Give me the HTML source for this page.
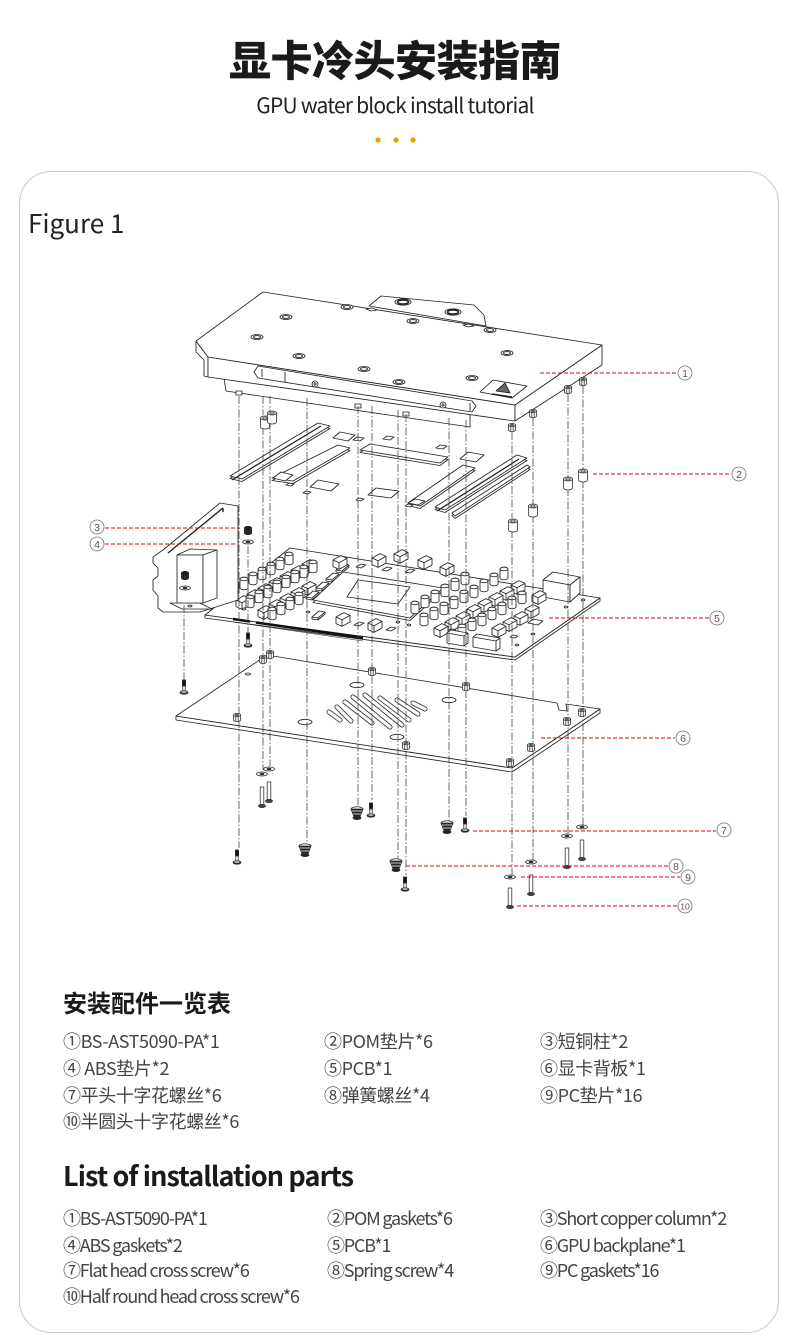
<!DOCTYPE html>
<html><head><meta charset="utf-8">
<style>
html,body{margin:0;padding:0;background:#fff;}
#p{position:relative;width:790px;height:1344px;overflow:hidden;font-family:"Noto Sans CJK SC","Liberation Sans",sans-serif;color:#222;}
.t{position:absolute;white-space:nowrap;line-height:1;}
.card{position:absolute;left:19px;top:171px;width:758px;height:1160px;border:1.5px solid #c9c9c9;border-radius:32px;}
.l{position:absolute;white-space:nowrap;line-height:1;font-size:18px;color:#444;letter-spacing:-0.4px;}
.e{letter-spacing:-1.2px;}
</style></head><body><div id="p">
<div class="card"></div>

<div class="t" style="left:0;width:790px;text-align:center;top:38px;font-size:42px;font-weight:900;color:#1a1a1a;letter-spacing:-0.5px;">显卡冷头安装指南</div>
<div class="t" style="left:0;width:790px;text-align:center;top:95px;font-size:21px;color:#222;letter-spacing:-0.8px;">GPU water block install tutorial</div>
<div class="t" style="left:28px;top:210px;font-size:26px;color:#222;">Figure 1</div>

<svg width="790" height="1344" viewBox="0 0 790 1344" style="position:absolute;left:0;top:0">
<defs>
<g id="cap"><path d="M-4,0V-9A4,1.8 0 0 1 4,-9V0A4,1.8 0 0 1 -4,0Z"/><ellipse cx="0" cy="-9" rx="4" ry="1.8"/></g>
<g id="ch"><path d="M0,0L8,-4.4L14,-1.6L14,5L6,9.4L0,6.6Z"/><path d="M0,0L6,2.8L14,-1.6M6,2.8V9.4" fill="none"/></g>
<g id="mem"><path d="M0,0L7,-6L13,-5L13,-3L6,3L0,2Z"/><path d="M0,0L6,1L13,-5M6,1V3" fill="none"/></g>
<g id="sq"><path d="M0,0L5,-3L10,-2L5,1Z"/></g>
<g id="nut"><path d="M-3.5,-5V0A3.5,1.6 0 0 0 3.5,0V-5Z"/><ellipse cx="0" cy="-5" rx="3.5" ry="1.6"/><ellipse cx="0" cy="-5" rx="1.5" ry=".7"/><path d="M-1.2,-3.6V1.4M1.2,-3.6V1.4" fill="none"/></g>
<g id="pom"><path d="M-4.5,-9V0A4.5,2 0 0 0 4.5,0V-9Z"/><ellipse cx="0" cy="-9" rx="4.5" ry="2"/><ellipse cx="0" cy="-9" rx="2.2" ry="1"/></g>
<g id="wash"><ellipse cx="0" cy="0" rx="5.5" ry="2"/><ellipse cx="0" cy="0" rx="2" ry=".8" fill="#333"/></g>
<g id="cone"><ellipse cx="0" cy="-4" rx="6" ry="2.2" fill="#fff"/><path d="M-6,-4L-3,4A3,1.4 0 0 0 3,4L6,-4Z" fill="#222"/><path d="M-5,-2L5,-2M-4,1L4,1" stroke="#fff" stroke-width=".8"/><ellipse cx="0" cy="5" rx="4" ry="1.6" fill="#222"/></g>
<g id="ss"><rect x="-1.6" y="0" width="3.2" height="6" fill="#111"/><rect x="-1.2" y="6" width="2.4" height="6" fill="#fff"/><ellipse cx="0" cy="12.5" rx="4" ry="1.7" fill="#222"/><ellipse cx="0" cy="12" rx="3" ry="1" fill="#fff"/></g>
<g id="ls"><rect x="-1.8" y="0" width="3.6" height="18" fill="#fff"/><ellipse cx="0" cy="19" rx="3.5" ry="1.6" fill="#444"/></g>
</defs>

<!-- WATER BLOCK -->
<g fill="#fff" stroke="#222" stroke-width=".85" stroke-linejoin="round">
<polygon points="224,378 470,414 470,427 226,391"/>
<polygon points="196,341 208,357 208,377 204,376 204,360 196,352"/>
<polygon points="208,357 515,405 515,421 208,377"/>
<polygon points="515,405 602,345 602,365 515,421"/>
<polygon points="263,292 602,345 515,405 208,357 196,341"/>
<polygon points="369,306 381,296 474,305 484,315 486,326"/>
<ellipse cx="403" cy="302" rx="8" ry="3.2"/><ellipse cx="403" cy="302" rx="5.5" ry="2.1" stroke-width="1.6"/>
<ellipse cx="453" cy="312" rx="8" ry="3.2"/><ellipse cx="453" cy="312" rx="5.5" ry="2.1" stroke-width="1.6"/>
<polygon points="366,309 372,308 377,310 371,311"/>
<polygon points="463,325 469,324 474,326 468,327"/>
<g>
<ellipse cx="286" cy="317" rx="6" ry="2.5"/><ellipse cx="286" cy="317" rx="3.5" ry="1.4"/>
<ellipse cx="347" cy="307" rx="6" ry="2.5"/><ellipse cx="347" cy="307" rx="3.5" ry="1.4"/>
<ellipse cx="413" cy="321" rx="6" ry="2.5"/><ellipse cx="413" cy="321" rx="3.5" ry="1.4"/>
<ellipse cx="257" cy="337" rx="6" ry="2.5"/><ellipse cx="257" cy="337" rx="3.5" ry="1.4"/>
<ellipse cx="299" cy="356" rx="6" ry="2.5"/><ellipse cx="299" cy="356" rx="3.5" ry="1.4"/>
<ellipse cx="364" cy="369" rx="6" ry="2.5"/><ellipse cx="364" cy="369" rx="3.5" ry="1.4"/>
<ellipse cx="399" cy="382" rx="6" ry="2.5"/><ellipse cx="399" cy="382" rx="3.5" ry="1.4"/>
<ellipse cx="472" cy="378" rx="6" ry="2.5"/><ellipse cx="472" cy="378" rx="3.5" ry="1.4"/>
<ellipse cx="507" cy="353" rx="6" ry="2.5"/><ellipse cx="507" cy="353" rx="3.5" ry="1.4"/>
<ellipse cx="490" cy="330" rx="6" ry="2.5"/><ellipse cx="490" cy="330" rx="3.5" ry="1.4"/>
</g>
<polygon points="258,366 472,401 476,406 472,412 258,378 254,372"/>
<path d="M262,369 L262,377 M470,403 L470,411 M285,372 L285,382" fill="none"/>
<circle cx="315" cy="384" r="3"/><path d="M313,384h4M315,382v4" fill="none"/>
<circle cx="443" cy="405" r="3"/><path d="M441,405h4M443,403v4" fill="none"/>
<polygon points="480,392 493,380 527,386 512,398"/>
<path d="M496,391 L505,383 L510,393 Z" fill="#666"/>
<path d="M492,394 L512,397" fill="none" stroke-width="1.4"/>
<rect x="236" y="391" width="6" height="4"/>
<rect x="355" y="404" width="6" height="4"/>
<rect x="403" y="412" width="6" height="4"/>
</g>
<g fill="#fff" stroke="#333" stroke-width=".8">
<use href="#nut" x="512" y="430"/><use href="#nut" x="533" y="416"/><use href="#nut" x="568" y="392"/><use href="#nut" x="583" y="384"/>
</g>

<!-- PADS -->
<g fill="#fff" stroke="#222" stroke-width=".85" stroke-linejoin="round">
<g transform="translate(0,2.5)">
<polygon points="230,476 318,423 330,426 242,479"/>
<polygon points="272,478 338,445 350,448 293,481"/>
<polygon points="360,450 370,444 448,457 440,463"/>
<polygon points="408,503 463,465 475,468 420,506"/>
<polygon points="435,507 517,455 527,458 445,510"/>
<polygon points="452,513 527,465 530,467 455,516"/>
</g>
<polygon points="230,476 318,423 330,426 242,479"/>
<polygon points="272,478 338,445 350,448 293,481"/>
<polygon points="360,450 370,444 448,457 440,463"/>
<polygon points="408,503 463,465 475,468 420,506"/>
<polygon points="435,507 517,455 527,458 445,510"/>
<polygon points="452,513 527,465 530,467 455,516"/>
<path d="M232,480 L321,426" fill="none" stroke-width="1.3"/>
<path d="M437,511 L519,459" fill="none" stroke-width="1.3"/>
<polygon points="333,438 340,432 355,435 348,441"/>
<polygon points="353,440 357,437 364,438 360,441"/>
<polygon points="383,439 387,436 394,437 390,440"/>
<polygon points="273,478 281,472 293,475 285,481"/>
<polygon points="310,487 318,480 339,484 331,491"/>
<polygon points="368,495 376,488 399,491 391,498"/>
<polygon points="460,459 468,452 484,455 476,462"/>
<polygon points="436,448 440,445 447,446 443,449"/>
<polygon points="408,503 415,499 425,501 418,505"/>
<polygon points="286,485 289,483 294,484 291,486"/>
<polygon points="303,493 306,491 311,492 308,494"/>
<polygon points="356,500 359,498 364,499 361,501"/>
<polygon points="405,506 408,504 413,505 410,507"/>
</g>

<!-- PCB -->
<g fill="#fff" stroke="#222" stroke-width=".85" stroke-linejoin="round">
<polygon points="205,615 515,657 600,598 600,601 515,660 205,618"/>
<polygon points="205,615 290,548 600,598 515,657"/>
<!-- left bank -->
<use href="#cap" x="289" y="563"/><use href="#cap" x="280" y="568"/><use href="#cap" x="271" y="573"/><use href="#cap" x="262" y="578"/><use href="#cap" x="253" y="583"/><use href="#cap" x="244" y="588"/><use href="#cap" x="235" y="593"/><use href="#cap" x="226" y="598"/>
<use href="#ch" x="302" y="564"/><use href="#ch" x="291" y="570"/><use href="#ch" x="280" y="576"/><use href="#ch" x="269" y="582"/><use href="#ch" x="258" y="588"/><use href="#ch" x="247" y="594"/><use href="#ch" x="236" y="600"/>
<use href="#cap" x="313" y="571"/><use href="#cap" x="304" y="576"/><use href="#cap" x="295" y="581"/><use href="#cap" x="286" y="586"/><use href="#cap" x="277" y="591"/><use href="#cap" x="268" y="596"/><use href="#cap" x="259" y="601"/><use href="#cap" x="250" y="606"/>
<use href="#ch" x="302" y="586"/><use href="#ch" x="291" y="592"/><use href="#ch" x="280" y="598"/><use href="#ch" x="269" y="604"/><use href="#ch" x="258" y="610"/>
<use href="#cap" x="299" y="603"/><use href="#cap" x="290" y="608"/><use href="#cap" x="281" y="613"/><use href="#cap" x="272" y="618"/>
<use href="#mem" x="336" y="570"/><use href="#mem" x="326" y="579"/><use href="#mem" x="316" y="588"/><use href="#mem" x="306" y="597"/>
<!-- back middle -->
<use href="#ch" x="333" y="560"/><use href="#ch" x="372" y="558"/><use href="#ch" x="394" y="554"/><use href="#ch" x="418" y="560"/><use href="#ch" x="440" y="567"/>
<use href="#sq" x="356" y="567"/><use href="#sq" x="382" y="570"/><use href="#sq" x="405" y="572"/>
<!-- GPU -->
<polygon points="313,602.5 343,574.5 443,590.5 410,620.5"/>
<polygon points="313,600 343,572 443,588 410,618"/>
<polygon points="347,597 358,580 410,587 398,604"/>
<!-- front middle -->
<use href="#mem" x="312" y="617"/><use href="#ch" x="336" y="617"/><use href="#sq" x="354" y="625"/><use href="#ch" x="368" y="623"/><use href="#sq" x="386" y="630"/>
<!-- right bank -->
<use href="#cap" x="465" y="583"/><use href="#cap" x="455" y="589"/><use href="#cap" x="445" y="595"/><use href="#cap" x="435" y="601"/><use href="#cap" x="425" y="606"/><use href="#cap" x="415" y="612"/>
<use href="#cap" x="504" y="578"/><use href="#cap" x="494" y="584"/><use href="#cap" x="484" y="590"/><use href="#cap" x="474" y="596"/><use href="#cap" x="464" y="601"/><use href="#cap" x="454" y="607"/><use href="#cap" x="444" y="613"/><use href="#cap" x="434" y="618"/><use href="#cap" x="424" y="624"/>
<use href="#ch" x="511" y="585"/><use href="#ch" x="500" y="591"/><use href="#ch" x="489" y="597"/><use href="#ch" x="478" y="603"/><use href="#ch" x="467" y="609"/><use href="#ch" x="456" y="616"/><use href="#ch" x="445" y="622"/><use href="#ch" x="434" y="628"/>
<use href="#cap" x="522" y="602"/><use href="#cap" x="512" y="607"/><use href="#cap" x="502" y="613"/><use href="#cap" x="492" y="618"/><use href="#cap" x="482" y="624"/><use href="#cap" x="472" y="629"/><use href="#cap" x="462" y="635"/><use href="#cap" x="452" y="640"/>
<use href="#ch" x="525" y="609"/><use href="#ch" x="514" y="616"/><use href="#ch" x="503" y="622"/><use href="#ch" x="492" y="628"/>
<polygon points="447,633 451,630 468,633 468,643 464,646 447,643"/><path d="M447,633 L464,636 L468,633 M464,636 V646" fill="none"/>
<polygon points="473,637 477,634 500,638 500,648 496,651 473,647"/><path d="M473,637 L496,641 L500,638 M496,641 V651" fill="none"/>
<polygon points="543,580 553,572 580,577 570,585"/>
<polygon points="543,580 570,585 570,602 543,597"/>
<polygon points="570,585 580,577 580,593 570,602"/>
<use href="#ch" x="532" y="595"/>
<polygon points="528,623 533,619 543,621 538,625"/>
<polygon points="510,637 513,635 518,636 515,638"/>
<ellipse cx="566" cy="607" rx="1.8" ry=".9"/><ellipse cx="583" cy="600" rx="1.8" ry=".9"/><ellipse cx="409" cy="625" rx="1.8" ry=".9"/><ellipse cx="244" cy="609" rx="1.8" ry=".9"/><ellipse cx="308" cy="612" rx="1.8" ry=".9"/><ellipse cx="517" cy="645" rx="1.8" ry=".9"/><ellipse cx="533" cy="634" rx="1.8" ry=".9"/><ellipse cx="398" cy="622" rx="1.8" ry=".9"/>
<!-- bracket -->
<polygon points="163,550 220,503 238,506 238,600 200,612 163,612 158,608 158,596 153,590 153,580 158,576 158,568 153,563 153,557"/>
<path d="M168,553 L223,508 M223,508 V512" fill="none" stroke-width="1.4"/>
<polygon points="170,603 200,603 212,609 182,609"/>
<ellipse cx="190" cy="606" rx="2" ry=".9"/>
<polygon points="177,555 190,549 217,550 203,555"/>
<polygon points="177,555 203,555 203,603 177,603"/>
<polygon points="203,555 217,550 217,598 203,603"/>
</g>
<path d="M233,619 L250,621.5 M256,622.5 L363,638" stroke="#111" stroke-width="2.6" fill="none"/>
<path d="M233,622 L363,641" stroke="#333" stroke-width=".6" fill="none"/>

<!-- BACKPLATE -->
<g fill="#fff" stroke="#222" stroke-width=".85" stroke-linejoin="round">
<polygon points="176,716 512,768 600,709 600,713 512,772 176,720"/>
<polygon points="176,716 267,655 557,703 559,710 567,711 566,704 600,709 512,768"/>
<ellipse cx="357" cy="685" rx="7" ry="2.7"/><ellipse cx="305" cy="722" rx="7" ry="2.7"/><ellipse cx="449" cy="700" rx="7" ry="2.7"/><ellipse cx="397" cy="737" rx="7" ry="2.7"/><ellipse cx="248" cy="674" rx="2.5" ry="1"/>
</g>
<g stroke-linecap="round" fill="none">
<g stroke="#333" stroke-width="5">
<path d="M329,712L340,720M337,707L351,721M345,702L372,723M353,697L390,727M365,695L402,725M380,698L409,720M397,700L418,714M413,703L425,709"/>
</g>
<g stroke="#fff" stroke-width="3.3">
<path d="M329,712L340,720M337,707L351,721M345,702L372,723M353,697L390,727M365,695L402,725M380,698L409,720M397,700L418,714M413,703L425,709"/>
</g>
</g>

<!-- DASH-DOT LINES -->
<g stroke="#444" stroke-width=".8" fill="none" stroke-dasharray="8 2 1.5 2">
<path d="M239,396V848"/>
<path d="M248,546V633"/>
<path d="M184,605V680"/>
<path d="M263,396V415M263,427V770"/>
<path d="M270,396V412M270,422V766"/>
<path d="M307,398V843"/>
<path d="M358,406V806"/>
<path d="M372,406V800"/>
<path d="M398,410V858"/>
<path d="M406,414V875"/>
<path d="M449,418V822"/>
<path d="M466,420V816"/>
<path d="M512,432V518M512,530V875"/>
<path d="M533,418V505M533,515V860"/>
<path d="M568,394V478M568,488V834"/>
<path d="M583,386V470M583,480V825"/>
</g>

<!-- SMALL PARTS -->
<g fill="#fff" stroke="#333" stroke-width=".8">
<use href="#pom" x="265" y="427"/><use href="#pom" x="272" y="422"/>
<use href="#pom" x="513" y="530"/><use href="#pom" x="533" y="515"/><use href="#pom" x="568" y="488"/><use href="#pom" x="583" y="480"/>
<use href="#wash" x="248" y="542"/><use href="#wash" x="185" y="588"/>
<use href="#nut" x="263" y="662"/><use href="#nut" x="270" y="657"/><use href="#nut" x="372" y="674"/><use href="#nut" x="466" y="689"/><use href="#nut" x="237" y="720"/><use href="#nut" x="406" y="748"/><use href="#nut" x="567" y="724"/><use href="#nut" x="582" y="715"/><use href="#nut" x="531" y="750"/><use href="#nut" x="510" y="765"/>
<use href="#wash" x="262" y="774"/><use href="#wash" x="269" y="769"/><use href="#wash" x="567" y="836"/><use href="#wash" x="582" y="827"/><use href="#wash" x="531" y="862"/><use href="#wash" x="510" y="877"/>
<use href="#ls" x="262" y="787"/><use href="#ls" x="269" y="782"/><use href="#ls" x="567" y="848"/><use href="#ls" x="582" y="840"/><use href="#ls" x="531" y="875"/><use href="#ls" x="510" y="888"/>
<use href="#ss" x="184" y="680"/><use href="#ss" x="248" y="633"/><use href="#ss" x="237" y="850"/><use href="#ss" x="371" y="803"/><use href="#ss" x="465" y="818"/><use href="#ss" x="405" y="877"/>
<use href="#cone" x="305" y="850"/><use href="#cone" x="357" y="813"/><use href="#cone" x="396" y="865"/><use href="#cone" x="447" y="827"/>
</g>
<g fill="#333" stroke="#111" stroke-width=".8">
<use href="#nut" x="248" y="533"/><use href="#nut" x="185" y="578"/>
</g>

<!-- RED LEADERS -->
<g stroke="#e60012" stroke-width="1.1" stroke-dasharray="4 2" fill="none">
<path d="M540,373H676"/>
<path d="M593,474H731"/>
<path d="M105,528H240"/>
<path d="M105,544H237"/>
<path d="M549,618H709"/>
<path d="M541,738H675"/>
<path d="M473,831H716"/>
<path d="M406,866H668"/>
<path d="M521,877H680"/>
<path d="M517,906H677"/>
</g>
<g fill="#fff" stroke="#777" stroke-width=".8">
<circle cx="685" cy="373" r="7"/><circle cx="739" cy="474" r="7"/><circle cx="97" cy="527" r="7"/><circle cx="97" cy="544" r="7"/><circle cx="717" cy="618" r="7"/><circle cx="683" cy="738" r="7"/><circle cx="724" cy="830" r="7"/><circle cx="676" cy="866" r="7"/><circle cx="688" cy="877" r="7"/><circle cx="685" cy="906" r="7"/>
</g>
<g fill="#555" font-family="Liberation Sans, sans-serif" font-size="10.5" text-anchor="middle">
<text x="685" y="377">1</text><text x="739" y="478">2</text><text x="97" y="531">3</text><text x="97" y="548">4</text><text x="717" y="622">5</text><text x="683" y="742">6</text><text x="724" y="834">7</text><text x="676" y="870">8</text><text x="688" y="881">9</text><text x="685" y="909.5" font-size="8.5">10</text>
</g>
</svg>

<div class="t" style="left:63px;top:990px;font-size:24px;font-weight:700;color:#1a1a1a;">安装配件一览表</div>
<div class="l" style="left:63px;top:1032px;">①BS-AST5090-PA*1</div>
<div class="l" style="left:324px;top:1032px;">②POM垫片*6</div>
<div class="l" style="left:540px;top:1032px;">③短铜柱*2</div>
<div class="l" style="left:63px;top:1059px;">④ ABS垫片*2</div>
<div class="l" style="left:324px;top:1059px;">⑤PCB*1</div>
<div class="l" style="left:540px;top:1059px;">⑥显卡背板*1</div>
<div class="l" style="left:63px;top:1086px;">⑦平头十字花螺丝*6</div>
<div class="l" style="left:324px;top:1086px;">⑧弹簧螺丝*4</div>
<div class="l" style="left:540px;top:1086px;">⑨PC垫片*16</div>
<div class="l" style="left:63px;top:1112px;">⑩半圆头十字花螺丝*6</div>

<div class="t" style="left:63px;top:1161px;font-size:27px;font-weight:700;color:#1a1a1a;letter-spacing:-0.9px;">List of installation parts</div>
<div class="l e" style="left:63px;top:1209px;">①BS-AST5090-PA*1</div>
<div class="l e" style="left:327px;top:1209px;">②POM gaskets*6</div>
<div class="l e" style="left:540px;top:1209px;">③Short copper column*2</div>
<div class="l e" style="left:63px;top:1236px;">④ABS gaskets*2</div>
<div class="l e" style="left:327px;top:1236px;">⑤PCB*1</div>
<div class="l e" style="left:540px;top:1236px;">⑥GPU backplane*1</div>
<div class="l e" style="left:63px;top:1261px;">⑦Flat head cross screw*6</div>
<div class="l e" style="left:327px;top:1261px;">⑧Spring screw*4</div>
<div class="l e" style="left:540px;top:1261px;">⑨PC gaskets*16</div>
<div class="l e" style="left:63px;top:1287px;">⑩Half round head cross screw*6</div>

<svg width="790" height="160" style="position:absolute;left:0;top:0" viewBox="0 0 790 160">
<circle cx="378" cy="140" r="2.6" fill="#f39800"/><circle cx="396" cy="140" r="2.6" fill="#f39800"/><circle cx="413" cy="140" r="2.6" fill="#f39800"/>
</svg>
</div></body></html>
